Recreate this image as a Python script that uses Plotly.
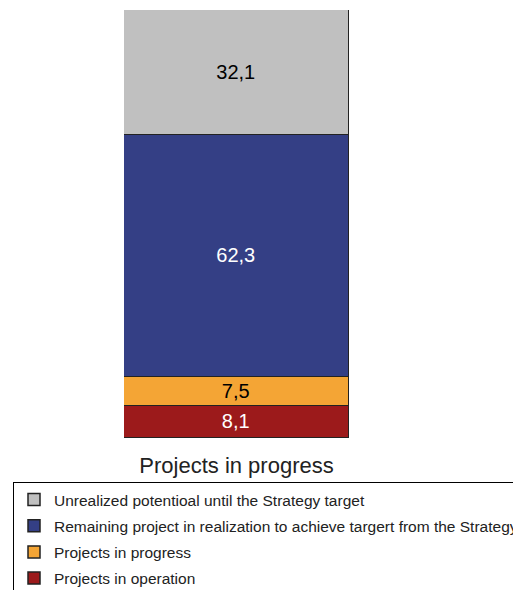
import plotly.graph_objects as go

# Data
CATEGORIES = ['Projects in progress']
SERIES_NAMES = [
    'Projects in operation',
    'Projects in progress',
    'Remaining project in realization to achieve targert from the Strategy',
    'Unrealized potentioal until the Strategy target',
]
SERIES_VALUES = [8.1, 7.5, 62.3, 32.1]

COLORS = ['#9c1a1b', '#f4a535', '#343f85', '#c0c0c0']
TEXT_COLORS = ['white', 'black', 'white', 'black']

FONT = 'Arial, Liberation Sans, sans-serif'

fig = go.Figure()
for i, (name, val) in enumerate(zip(SERIES_NAMES, SERIES_VALUES)):
    fig.add_trace(go.Bar(
        name=name,
        x=CATEGORIES,
        y=[val],
        legendgroup=f'g{i}',
        legendrank=1000 - i * 100,  # top of stack listed first
        marker=dict(color=COLORS[i], line=dict(color='#222222', width=1.5)),
        text=[f'{val:.1f}'.replace('.', ',')],
        textposition='inside',
        insidetextanchor='middle',
        textfont=dict(size=20, color=TEXT_COLORS[i], family=FONT),
    ))

fig.update_layout(
    width=513,
    height=590,
    barmode='stack',
    bargap=0,
    plot_bgcolor='white',
    paper_bgcolor='white',
    font=dict(family=FONT, color='black'),
    margin=dict(l=124, r=164, t=10, b=152, autoexpand=False),
    xaxis=dict(
        showline=False, showgrid=False, zeroline=False,
        ticks='outside', ticklen=8, tickcolor='rgba(0,0,0,0)',
        tickfont=dict(size=22, family=FONT, color='#222222'),
    ),
    yaxis=dict(range=[0, 110], visible=False),
    legend=dict(
        x=(13 - 124) / 225, y=(438 - 482) / 428,
        xanchor='left', yanchor='top',
        traceorder='grouped',
        tracegroupgap=3,
        bordercolor='black', borderwidth=1,
        font=dict(size=15.5, family=FONT, color='#222222'),
        bgcolor='white',
    ),
)

# drop the default page margin so the figure sits at the window's corner
fig.write_html('out.html',
               config={'displayModeBar': False},
               post_script="document.body.style.margin='0';"
                           "document.body.style.overflow='hidden';")
